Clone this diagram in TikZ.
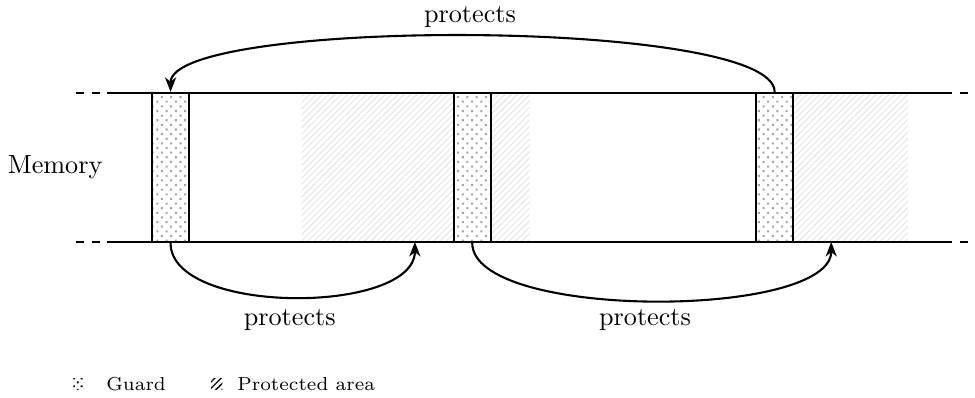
\documentclass[tikz,border=0pt]{standalone}
\usetikzlibrary{arrows.meta,patterns.meta}

\tikzset{
  guard/.style={draw, thick, inner sep=0pt, minimum width=0.5cm, minimum height=2cm,
    pattern={Dots[distance=2.5pt,radius=0.55pt,angle=45]}, pattern color=gray!70},
  protected/.style={pattern={Lines[angle=45,distance=1.7pt,line width=0.35pt]}, pattern color=gray!22},
  protects/.style={thick, -{Stealth[length=5.5pt,width=4.2pt,inset=1.6pt]}},
  memline/.style={thick},
  legendkey/.style={inner sep=0pt, minimum size=0.15cm},
  legendtext/.style={right, inner sep=0pt, font=\fontsize{7.2}{9}\selectfont},
}

\begin{document}
\begin{tikzpicture}
\useasboundingbox (-1.45,-2.094) rectangle (11.64,3.248);

% zones protegees (hachures)
\fill[protected] (2.60,0) rectangle (4.64,2);
\fill[protected] (5.14,0) rectangle (5.66,2);
\fill[protected] (9.20,0) rectangle (10.74,2);

% les gardes
\node[guard] (g1) at (0.84,1) {};
\node[guard] (g2) at (4.89,1) {};
\node[guard] (g3) at (8.95,1) {};

% bords de la memoire
\foreach \y in {0,2} {
  \draw[memline] (0,\y) -- (11.33,\y);
  \draw[memline, dashed] (-0.43,\y) -- (0,\y);
  \draw[memline, dashed, dash phase=3pt] (11.33,\y) -- (11.62,\y);
}
\node (mem) at (-0.71,1) {Memory};

% fleches
\coordinate (t1) at (4.12,0);
\coordinate (t2) at (9.71,0);
\draw[protects] (g3.north) to[out=90,in=90,looseness=0.315] (g1.north);
\draw[protects] (g1.south) to[out=-90,in=-90,looseness=0.76] (t1);
\draw[protects] (g2.south) to[out=-90,in=-90,looseness=0.55] (t2);
\node (ptop) at (4.86,3.02) {protects};
\node (pbot1) at (2.44,-1.05) {protects};
\node (pbot2) at (7.21,-1.05) {protects};

% legende
\node[legendkey, pattern={Dots[distance=2.1pt,radius=0.5pt,angle=45]}, pattern color=black] (kguard) at (-0.39,-1.906) {};
\node[legendtext] (lguard) at (-0.03,-1.906) {Guard};
\node[legendkey, pattern={Lines[angle=45,distance=1.7pt,line width=0.5pt]}, pattern color=black] (kprot) at (1.46,-1.906) {};
\node[legendtext] (lprot) at (1.73,-1.906) {Protected area};

\end{tikzpicture}
\end{document}
